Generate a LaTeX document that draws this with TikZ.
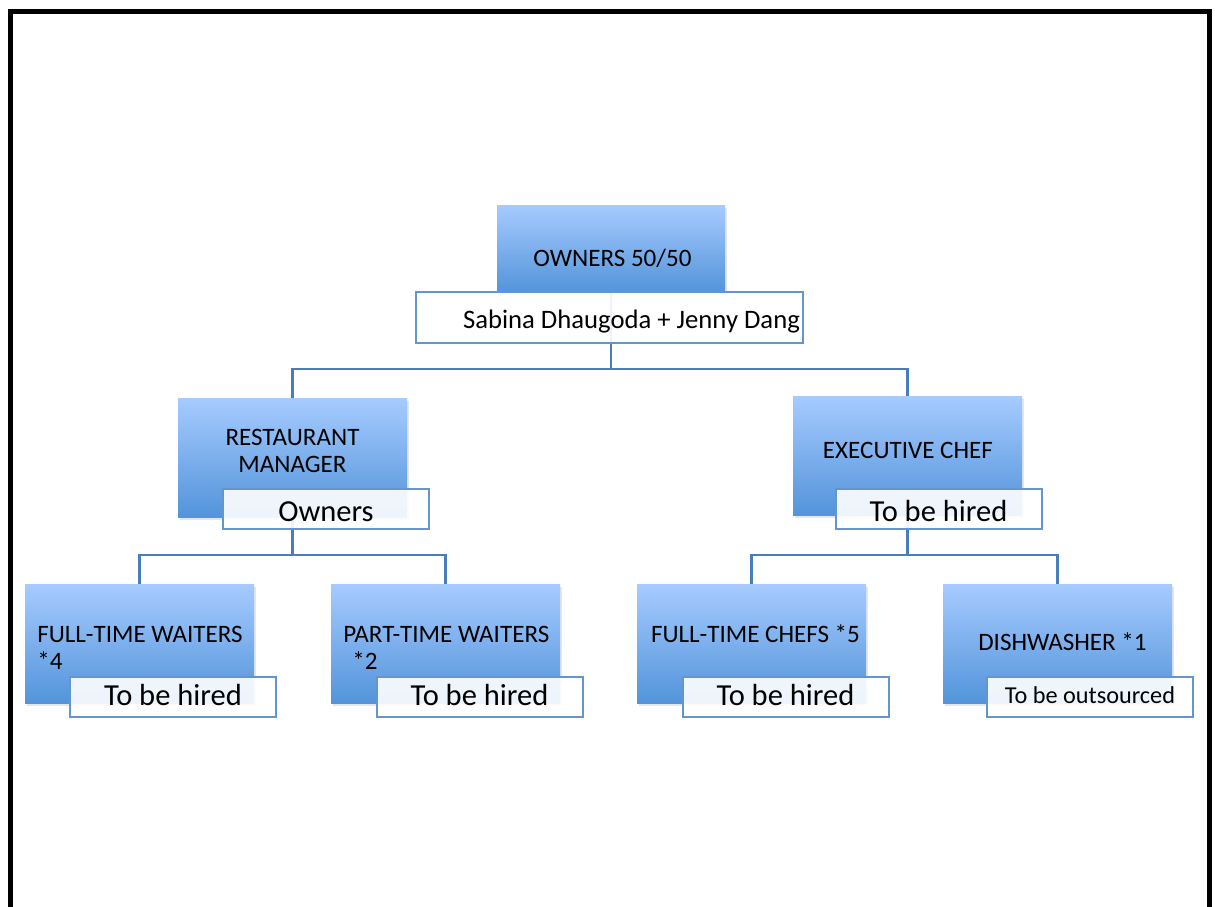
\documentclass[tikz,border=0pt]{standalone}
\usepackage{fontspec}
\setmainfont{Carlito}
\usetikzlibrary{backgrounds,shadows}
\definecolor{boxtop}{HTML}{A6CBFF}
\definecolor{boxbottom}{HTML}{5394DA}
\definecolor{linkblue}{HTML}{4A7EBB}
\definecolor{lblborder}{HTML}{6495CE}
\begin{document}
\begin{tikzpicture}[x=0.75pt, y=-0.75pt]
        \tikzset{
        org box/.style={rectangle,inner sep=0,top color=boxtop,bottom color=boxbottom,
          minimum width=171.75pt,minimum height=89.25pt,
          drop shadow={opacity=0.2,shadow xshift=1.5pt,shadow yshift=-2pt}},
        org label/.style={rectangle,draw=lblborder,line width=1.5pt,fill=white,fill opacity=0.9,
          text opacity=1,inner sep=0,minimum width=154.5pt,minimum height=30pt,
          font=\fontsize{22.9pt}{27pt}\selectfont},
        org title/.style={inner sep=0,font=\fontsize{18.8pt}{20.3pt}\selectfont},
        org edge/.style={draw=linkblue,line width=1.6pt,to path={-- ++(0,#1) -| (\tikztotarget)}}
        }
        \path[use as bounding box] (0,0) rectangle (1215,907);
        \draw[line width=3.75pt] (10,11.5) rectangle (1209,940);

        % boxes
        \node[org box,minimum width=171pt,minimum height=65.25pt] (own) at (611,248.5) {};
        \node[org box] (mgr) at (292.5,457.5) {};
        \node[org box] (exec) at (907.5,455.5) {};
        \node[org box] (ftw) at (139.5,643.5) {};
        \node[org box] (ptw) at (445.5,643.5) {};
        \node[org box] (ftc) at (751.5,643.5) {};
        \node[org box] (dish) at (1057.5,643.5) {};

        \node[org title] (own txt) at (612.5,258) {OWNERS 50/50};
        \node[org title,align=center] (mgr txt) at (292.5,450.5) {RESTAURANT\\MANAGER};
        \node[org title] (exec txt) at (908,450) {EXECUTIVE CHEF};
        \node[org title,align=left,anchor=west] (ftw txt) at (37,648) {FULL-TIME WAITERS\\*4};
        \node[org title,align=left,anchor=west] (ptw txt) at (343,648) {PART-TIME WAITERS\\\hspace*{6.75pt}*2};
        \node[org title] (ftc txt) at (755.5,634) {FULL-TIME CHEFS *5};
        \node[org title] (dish txt) at (1062.5,642) {DISHWASHER *1};

        % labels
        \node[org label,minimum width=290.25pt,minimum height=38.25pt,font=\fontsize{20pt}{24pt}\selectfont]
          (own lbl) at (609.5,317.5) {\hspace*{33pt}\raisebox{-3pt}[\height][\depth]{Sabina Dhaugoda + Jenny Dang}};
        \node[org label] (mgr lbl) at (326,509) {\raisebox{-2pt}[\height][\depth]{Owners}};
        \node[org label] (exec lbl) at (938.5,509) {\raisebox{-1.5pt}[\height][\depth]{To be hired}};
        \node[org label] (ftw lbl) at (173,696.5) {\raisebox{1.5pt}[\height][\depth]{To be hired}};
        \node[org label] (ptw lbl) at (479.5,696.5) {\raisebox{1.5pt}[\height][\depth]{To be hired}};
        \node[org label] (ftc lbl) at (785.5,696.5) {\raisebox{1.5pt}[\height][\depth]{To be hired}};
        \node[org label,font=\fontsize{18.2pt}{21pt}\selectfont] (dish lbl) at (1090,696.5) {\raisebox{0.75pt}[\height][\depth]{To be outsourced}};

        \begin{scope}[on background layer]
        \fill[white] (0,0) rectangle (1215,907);
        \path
        (own.south) edge[org edge=77] (mgr.north)
        (own.south) edge[org edge=77] (exec.north)
        (mgr.south) edge[org edge=38] (ftw.north)
        (mgr.south) edge[org edge=38] (ptw.north)
        (exec.south) edge[org edge=40] (ftc.north)
        (exec.south) edge[org edge=40] (dish.north)
        ;
        \end{scope}
\end{tikzpicture}
\end{document}
